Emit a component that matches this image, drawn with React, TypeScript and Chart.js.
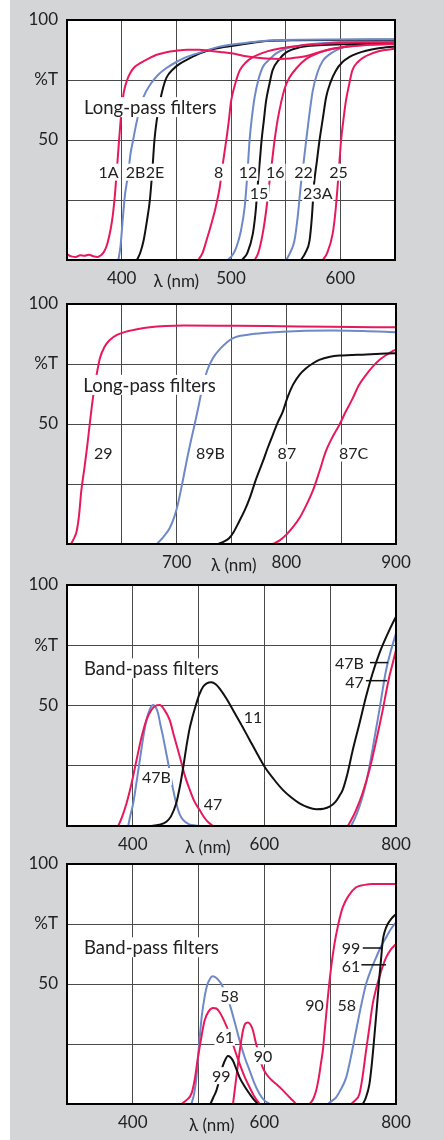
import React, { useEffect, useRef } from 'react';
import { Chart, registerables } from 'chart.js';
Chart.register(...registerables);

const PINK = '#e8195b';
const BLUE = '#6e88c8';
const BLACK = '#111111';
const FONT = 'Lato, "Open Sans", sans-serif';

// ---------- Panel 1: long-pass filters (350-650 nm) ----------
const p1_1A_nm = [350, 354, 358, 362, 366, 370, 374, 378, 381, 384, 387, 390, 392, 394, 396, 398, 400, 402, 405, 408, 412, 417, 425, 432, 440, 450, 460, 471, 480, 490, 502, 512, 520, 532, 545, 554, 562, 569, 580, 593, 608, 624, 650];
const p1_1A_T = [2.4, 1.5, 1.2, 2, 1.8, 2.2, 1.6, 1.3, 2, 3.5, 7, 13, 19, 28, 40, 52, 63, 70, 75, 78, 80.5, 82, 84, 85.5, 86.5, 87.2, 87.6, 87.6, 87.2, 86.7, 86, 85, 84.5, 84, 83.8, 84, 84.5, 85, 86.5, 88, 89, 89.6, 90];
const p1_2B_nm = [397, 399, 401, 403, 406, 408, 410.5, 413, 416.6, 420, 426, 433, 441, 450, 459, 470, 486, 500, 517, 530, 548, 600, 650];
const p1_2B_T = [0, 6, 17, 27, 36, 44, 50, 56, 63, 68, 73, 77, 80, 82.5, 84.5, 86.2, 88.5, 89.7, 90.7, 91.3, 91.7, 91.9, 92];
const p1_2E_nm = [414, 417, 420, 423, 425.8, 428, 430, 432, 435, 438, 441, 447, 453, 462, 471, 485, 502, 520, 532, 560, 650];
const p1_2E_T = [0, 3, 8, 16, 25, 37, 50, 58, 66, 72, 76, 79.5, 81.7, 84, 86, 88, 89.3, 90.5, 91.2, 91.6, 91.8];
const p1_8_nm = [470, 474, 477.5, 482, 486, 489.6, 492.5, 495.7, 498, 500, 503, 508, 514, 520, 529, 538, 550, 563, 580, 593, 620, 650];
const p1_8_T = [0, 3, 8, 15, 22, 30, 40, 50, 58, 66, 72, 79, 82.5, 84.5, 86.3, 87.5, 88.5, 89.3, 89.9, 90.3, 90.6, 90.7];
const p1_12_nm = [497, 502, 505, 509, 512.5, 515, 517, 519, 521.6, 525, 529, 535, 541, 550, 563, 580, 600, 650];
const p1_12_T = [0, 2.5, 5.4, 12, 22, 36, 50, 59, 67.8, 75, 80.3, 83.5, 86, 88, 89.3, 90.2, 90.8, 91.4];
const p1_15_nm = [510, 515, 520, 522.5, 524.6, 526.5, 528, 530, 532, 535, 538, 544, 550.5, 562.7, 580, 610, 650];
const p1_15_T = [0, 3, 11, 20, 31.8, 42, 50, 58, 66, 73, 79, 83.5, 86.5, 88.6, 89.5, 90, 90.3];
const p1_16_nm = [521.6, 525, 529, 532, 535, 537.5, 539.9, 542.5, 546, 549.5, 553.5, 560, 568.8, 580, 593, 610, 630, 650];
const p1_16_T = [0, 3, 11, 20, 31.8, 41, 50, 58, 66, 72, 76, 80, 83.8, 86.3, 88, 89.2, 89.8, 90];
const p1_22_nm = [550.5, 554, 558, 561, 564, 566.5, 568.8, 571.5, 574.8, 579, 584, 591, 599, 612, 630, 650];
const p1_22_T = [0, 3, 8, 18, 31.8, 41, 50, 60, 70.6, 78, 83, 86, 88, 89.8, 90.8, 91.4];
const p1_23A_nm = [564, 568, 571.8, 574, 576, 578.5, 581, 584, 587, 591, 596, 602, 608, 615, 623.5, 635, 650];
const p1_23A_T = [0, 3, 8, 18, 31.8, 41, 50, 59, 67.8, 74, 79, 82.5, 84.5, 86, 87.2, 88.2, 89];
const p1_25_nm = [584, 588, 593, 595.5, 597.7, 599.2, 600.7, 602.7, 605, 608, 611, 616, 623.5, 635, 650];
const p1_25_T = [0, 3, 11, 20, 31.8, 41, 50, 58, 66, 73, 79, 82.5, 85, 87, 88];

// ---------- Panel 2: long-pass filters (600-900 nm) ----------
const p2_29_nm = [603.6, 606, 608.8, 611, 613, 616, 618.5, 621, 624, 627, 630, 634, 639, 646, 654, 665, 675.5, 690, 706, 750, 782, 840, 900];
const p2_29_T = [0, 2, 5.3, 12, 22, 32, 41, 51, 62, 70.5, 77.4, 82, 85, 87.2, 88.5, 89.6, 90.3, 90.8, 91, 90.9, 90.8, 90.5, 90.3];
const p2_89B_nm = [682, 688, 693.7, 698, 701, 705, 709, 713, 716.5, 720, 724, 728, 733, 740, 751, 765, 782, 812, 842, 870, 900];
const p2_89B_T = [0, 3, 6.7, 11.5, 16.4, 25, 34.4, 43, 50, 57.5, 66.3, 72.5, 77.4, 81.5, 85.7, 87.2, 88, 88.8, 89, 88.8, 88.2];
const p2_87_nm = [737.7, 743, 748, 752, 757, 762, 766.5, 772, 778.6, 783, 787.7, 792, 796.8, 801, 806, 812, 818, 824, 830, 840, 848.4, 872.7, 900];
const p2_87_T = [0, 1, 2.5, 5, 9.4, 14, 19, 26.5, 34.4, 40, 45.5, 50.5, 55.2, 61, 66.3, 70.5, 73.2, 75.2, 76.7, 78, 78.5, 79, 79.5];
const p2_87C_nm = [787.7, 794, 800, 806, 812, 818, 824, 830, 836, 842, 848.4, 854, 860.5, 866, 872.7, 879, 884.8, 892, 900];
const p2_87C_T = [0, 1.5, 3.9, 7, 10.8, 16, 22, 30, 38.6, 44.5, 49.7, 55, 60.7, 66, 70.5, 74, 76.7, 79, 81.1];

// ---------- Panel 3: band-pass 47, 47B, 11 ----------
const p3_47B_a_nm = [393, 396, 400.6, 405, 410.7, 416, 420.8, 426, 431, 435, 438.5, 442, 446, 451, 456, 461, 466, 471, 476.4, 485, 495, 502];
const p3_47B_a_T = [0, 4, 9.4, 17, 27.4, 37, 44, 48.5, 50.2, 49.2, 46.7, 42, 37, 30, 23, 15.5, 9.4, 5, 2.5, 0.8, 0.2, 0];
const p3_47B_b_nm = [731.8, 738, 744.4, 752, 759.6, 767, 774.7, 780, 785, 792, 800];
const p3_47B_b_T = [0, 3.5, 8, 15, 24.6, 36, 48.1, 57, 64.7, 72.5, 80];
const p3_47_a_nm = [377.9, 384, 390.5, 398, 405.7, 413, 420.8, 428, 434, 441, 448, 456, 463, 471.4, 479, 486.6, 494, 501.7, 510, 516, 522];
const p3_47_a_T = [0, 4, 9.4, 17.5, 27.4, 36.5, 44, 48, 49.8, 50.2, 48.2, 44, 37, 28.8, 21, 15, 10, 6.6, 3, 1.2, 0];
const p3_47_b_nm = [726.7, 733, 739.3, 749, 759.6, 770, 779.8, 785, 789.9, 795, 800];
const p3_47_b_T = [0, 3, 6.6, 13.5, 23.2, 35.5, 48.1, 55.5, 62, 67.5, 73];
const p3_11_nm = [425.9, 440, 451, 458, 466, 472, 477, 481.5, 486, 491, 496.7, 501, 506.8, 513, 519.4, 526, 532, 542, 552.3, 565, 577.6, 589, 600.3, 614, 628, 641, 653.4, 666, 678.7, 690, 699, 708, 714, 719, 726, 734.3, 744, 754.5, 764, 774.7, 782, 789.9, 800];
const p3_11_T = [0, 0.5, 1.8, 4, 9.4, 17, 25, 33, 40, 45.5, 50.9, 54.5, 57.8, 59.3, 59.6, 58.8, 57, 53, 48.1, 42, 35.7, 30, 24.6, 19.5, 15, 11.8, 9.4, 7.8, 7, 7.2, 8, 10, 12.5, 15, 21.5, 31.5, 42, 53.7, 63, 71.6, 76.5, 81.3, 86.9];

// ---------- Panel 4: band-pass 58, 61, 99, 90 ----------
const p4_58_a_nm = [489, 493, 496.7, 499, 501.7, 505, 509, 513, 517, 521, 524.5, 529, 534.6, 540, 547, 555, 562.4, 570, 577.6, 585, 592.7, 600, 608];
const p4_58_a_T = [0, 4, 11, 19, 27.8, 37, 44.4, 49.5, 52, 53.2, 53, 52, 50, 46.5, 41.7, 34, 26.4, 19.5, 13.9, 8.5, 4.2, 1.5, 0];
const p4_58_b_nm = [696.4, 702, 709, 716, 724.2, 731, 739.4, 747, 754.5, 762, 769.7, 777, 784.9, 792, 800];
const p4_58_b_T = [0, 1.2, 2.8, 6, 11, 19, 30.6, 41, 50, 56, 61, 65.5, 69.4, 72.8, 75.7];
const p4_61_a_nm = [474, 481, 489, 494, 499, 504, 509, 515, 522, 527, 532, 539, 547, 555, 562.4, 570, 577.6, 585, 592.7];
const p4_61_a_T = [0, 1.5, 4.2, 10, 19.4, 27.5, 34.7, 38.5, 40, 39.8, 38.2, 34.5, 29.2, 22.5, 16.7, 11.3, 6.9, 3, 0];
const p4_61_b_nm = [731.8, 738, 744.4, 749, 754.5, 759.6, 764.6, 769.7, 774.7, 780, 784.9, 792, 800];
const p4_61_b_T = [0, 1.5, 4.2, 11, 22.2, 32, 41.7, 48, 52.8, 57.5, 61, 64.3, 66.7];
const p4_99_a_nm = [518, 522, 527, 531, 534.6, 539, 544.7, 548, 552.3, 557, 562.4, 570, 577.6, 584, 590];
const p4_99_a_T = [0, 2.5, 5.6, 9.5, 13.9, 17.5, 20, 19.6, 18, 14.8, 11, 7.3, 4.2, 1.8, 0];
const p4_99_b_nm = [749.5, 754, 759.6, 763, 767, 771, 774.7, 777.5, 779.8, 783, 787.4, 793, 800];
const p4_99_b_T = [0, 2.5, 8.3, 16, 27.8, 40.5, 52.8, 61, 68, 72, 75, 77.2, 79.2];
const p4_90_a_nm = [552.3, 555, 557.5, 559.9, 563.5, 567.5, 571, 575, 579, 582.6, 587, 592.7, 597, 602.9, 610, 618, 626, 633.2, 641, 648.4];
const p4_90_a_T = [0, 6, 11.5, 16.7, 24, 30.6, 33.5, 34, 33, 30.6, 25.5, 19.4, 15.5, 12.5, 10.2, 8.3, 6.3, 4.2, 2, 0];
const p4_90_b_nm = [668.6, 674, 678.7, 683, 686, 688.8, 692.5, 696.4, 701, 706.5, 712, 719, 728, 739.4, 752, 764.6, 800];
const p4_90_b_T = [0, 2, 5.6, 11.5, 17, 22.2, 33, 44.4, 56, 66.7, 74.5, 81.9, 86.8, 90.3, 91.3, 91.7, 91.7];

// ---------- Axis tick labels ----------
const yTickLabels: Record<number, string> = { 100: '100', 75: '%T', 50: '50' };
const p1_xLabels = [400, 500, 600];
const p2_xLabels = [700, 800, 900];
const p34_xLabels = [400, 600, 800];

const zip = (nm: number[], t: number[]) => nm.map((x, i) => ({ x, y: t[i] }));

type Lbl = { t: string; x: number; y: number };
type Leader = { x1: number; x2: number; y: number };
type PanelCfg = {
  top: number; plotH: number; right: number;
  xmin: number; xmax: number; step: number; xLabels: number[];
  series: { data: { x: number; y: number }[]; color: string }[];
  title: string; titleX: number; titleY: number;
  lambdaX: number;
  labels: Lbl[]; leaders: Leader[];
};

const panels: PanelCfg[] = [
  {
    top: 0, plotH: 240, right: 395, xmin: 350, xmax: 650, step: 50, xLabels: p1_xLabels,
    series: [
      { data: zip(p1_1A_nm, p1_1A_T), color: PINK },
      { data: zip(p1_2B_nm, p1_2B_T), color: BLUE },
      { data: zip(p1_2E_nm, p1_2E_T), color: BLACK },
      { data: zip(p1_8_nm, p1_8_T), color: PINK },
      { data: zip(p1_12_nm, p1_12_T), color: BLUE },
      { data: zip(p1_15_nm, p1_15_T), color: BLACK },
      { data: zip(p1_16_nm, p1_16_T), color: PINK },
      { data: zip(p1_22_nm, p1_22_T), color: BLUE },
      { data: zip(p1_23A_nm, p1_23A_T), color: BLACK },
      { data: zip(p1_25_nm, p1_25_T), color: PINK },
    ],
    title: 'Long-pass filters', titleX: 365.5, titleY: 63.7, lambdaX: 450,
    labels: [
      { t: '1A', x: 388, y: 36.6 }, { t: '2B', x: 412.7, y: 36.6 }, { t: '2E', x: 430.5, y: 36.6 },
      { t: '8', x: 488.7, y: 36.6 }, { t: '12', x: 515.5, y: 36.6 }, { t: '16', x: 540.5, y: 36.6 },
      { t: '22', x: 566.3, y: 36.6 }, { t: '25', x: 598.3, y: 36.6 },
      { t: '15', x: 525.6, y: 27.9 }, { t: '23A', x: 579.4, y: 27.9 },
    ],
    leaders: [],
  },
  {
    top: 284, plotH: 240, right: 396, xmin: 600, xmax: 900, step: 50, xLabels: p2_xLabels,
    series: [
      { data: zip(p2_29_nm, p2_29_T), color: PINK },
      { data: zip(p2_89B_nm, p2_89B_T), color: BLUE },
      { data: zip(p2_87_nm, p2_87_T), color: BLACK },
      { data: zip(p2_87C_nm, p2_87C_T), color: PINK },
    ],
    title: 'Long-pass filters', titleX: 614.9, titleY: 66.3, lambdaX: 752,
    labels: [
      { t: '29', x: 633, y: 37.9 }, { t: '89B', x: 730.7, y: 37.9 },
      { t: '87', x: 800.5, y: 37.9 }, { t: '87C', x: 861.4, y: 37.9 },
    ],
    leaders: [],
  },
  {
    top: 565, plotH: 241, right: 396, xmin: 300, xmax: 800, step: 100, xLabels: p34_xLabels,
    series: [
      { data: zip(p3_11_nm, p3_11_T), color: BLACK },
      { data: zip(p3_47_a_nm, p3_47_a_T), color: PINK },
      { data: zip(p3_47_b_nm, p3_47_b_T), color: PINK },
      { data: zip(p3_47B_a_nm, p3_47B_a_T), color: BLUE },
      { data: zip(p3_47B_b_nm, p3_47B_b_T), color: BLUE },
    ],
    title: 'Band-pass filters', titleX: 325.8, titleY: 65.4, lambdaX: 514,
    labels: [
      { t: '47B', x: 436, y: 20.5 }, { t: '47', x: 522, y: 9.4 }, { t: '11', x: 582.6, y: 45.4 },
      { t: '47B', x: 729.3, y: 67.5 }, { t: '47', x: 737, y: 59.8 },
    ],
    leaders: [{ x1: 760.4, x2: 787.8, y: 67.8 }, { x1: 754.3, x2: 786.3, y: 60.3 }],
  },
  {
    top: 843.5, plotH: 240, right: 396, xmin: 300, xmax: 800, step: 100, xLabels: p34_xLabels,
    series: [
      { data: zip(p4_99_a_nm, p4_99_a_T), color: BLACK },
      { data: zip(p4_99_b_nm, p4_99_b_T), color: BLACK },
      { data: zip(p4_61_a_nm, p4_61_a_T), color: PINK },
      { data: zip(p4_61_b_nm, p4_61_b_T), color: PINK },
      { data: zip(p4_90_a_nm, p4_90_a_T), color: PINK },
      { data: zip(p4_90_b_nm, p4_90_b_T), color: PINK },
      { data: zip(p4_58_a_nm, p4_58_a_T), color: BLUE },
      { data: zip(p4_58_b_nm, p4_58_b_T), color: BLUE },
    ],
    title: 'Band-pass filters', titleX: 325.8, titleY: 65.3, lambdaX: 520,
    labels: [
      { t: '58', x: 547, y: 45.1 }, { t: '61', x: 539.7, y: 27.8 }, { t: '99', x: 534.6, y: 11.8 },
      { t: '90', x: 597.8, y: 20.1 }, { t: '90', x: 676, y: 41.4 }, { t: '58', x: 725.2, y: 41.4 },
      { t: '99', x: 731.8, y: 65 }, { t: '61', x: 731.8, y: 57.6 },
    ],
    leaders: [{ x1: 749.5, x2: 777.3, y: 65 }, { x1: 744.4, x2: 784.9, y: 58 }],
  },
];

const CANVAS_H = 300;
const PAD_TOP = 20;
const Y_AXIS_W = 67;

const decorPlugin = {
  id: 'decor',
  beforeDraw(chart: any) {
    const { ctx, chartArea: a } = chart;
    ctx.save();
    ctx.fillStyle = '#ffffff';
    ctx.fillRect(a.left, a.top, a.right - a.left, a.bottom - a.top);
    ctx.restore();
  },
  afterDatasetsDraw(chart: any, _args: any, opts: any) {
    const cfg: PanelCfg = opts.cfg;
    const { ctx, chartArea: a } = chart;
    const xs = chart.scales.x, ys = chart.scales.y;
    ctx.save();
    ctx.textBaseline = 'middle';
    // leaders
    ctx.strokeStyle = '#111';
    ctx.lineWidth = 1.5;
    for (const l of cfg.leaders) {
      const y = ys.getPixelForValue(l.y);
      ctx.beginPath();
      ctx.moveTo(xs.getPixelForValue(l.x1), y);
      ctx.lineTo(xs.getPixelForValue(l.x2), y);
      ctx.stroke();
    }
    // curve labels
    ctx.font = `16px ${FONT}`;
    ctx.textAlign = 'center';
    for (const l of cfg.labels) {
      const px = xs.getPixelForValue(l.x), py = ys.getPixelForValue(l.y);
      const w = ctx.measureText(l.t).width;
      ctx.fillStyle = '#fff';
      ctx.fillRect(px - w / 2 - 1, py - 8.5, w + 2, 17);
      ctx.fillStyle = '#222';
      ctx.fillText(l.t, px, py + 1);
    }
    // title
    ctx.font = `18.5px ${FONT}`;
    ctx.textAlign = 'left';
    {
      const px = xs.getPixelForValue(cfg.titleX), py = ys.getPixelForValue(cfg.titleY);
      const w = ctx.measureText(cfg.title).width;
      ctx.fillStyle = '#fff';
      ctx.fillRect(px - 2, py - 10, w + 4, 20);
      ctx.fillStyle = '#222';
      ctx.fillText(cfg.title, px, py + 1);
    }
    // border
    ctx.strokeStyle = '#000';
    ctx.lineWidth = 2;
    ctx.strokeRect(a.left, a.top, a.right - a.left, a.bottom - a.top);
    // lambda axis title
    ctx.font = `17px ${FONT}`;
    ctx.textAlign = 'center';
    ctx.fillStyle = '#222';
    ctx.fillText('λ (nm)', xs.getPixelForValue(cfg.lambdaX), a.bottom + 22);
    ctx.restore();
  },
};

function Panel({ cfg }: { cfg: PanelCfg }) {
  const ref = useRef<HTMLCanvasElement>(null);
  useEffect(() => {
    const xAxisH = CANVAS_H - PAD_TOP - cfg.plotH;
    const chart = new Chart(ref.current as HTMLCanvasElement, {
      type: 'line',
      data: {
        datasets: cfg.series.map((s) => ({
          data: s.data,
          borderColor: s.color,
          borderWidth: 2,
          pointRadius: 0,
          fill: false,
          cubicInterpolationMode: 'monotone',
        })) as any,
      },
      options: {
        animation: false,
        responsive: false,
        events: [],
        layout: { padding: { top: PAD_TOP, left: 0, right: 444 - cfg.right, bottom: 0 } },
        plugins: { legend: { display: false }, tooltip: { enabled: false }, decor: { cfg } } as any,
        scales: {
          x: {
            type: 'linear',
            min: cfg.xmin,
            max: cfg.xmax,
            afterFit: (s: any) => { s.height = xAxisH; },
            border: { display: false },
            grid: { color: '#4a4a4a', lineWidth: 1, drawTicks: false },
            ticks: {
              stepSize: cfg.step,
              padding: 8,
              maxRotation: 0,
              autoSkip: false,
              color: '#222',
              font: { family: FONT, size: 17 },
              callback: (v: any) => (cfg.xLabels.includes(Number(v)) ? String(v) : ''),
            },
          },
          y: {
            type: 'linear',
            min: 0,
            max: 100,
            afterFit: (s: any) => { s.width = Y_AXIS_W; },
            border: { display: false },
            grid: { color: '#4a4a4a', lineWidth: 1, drawTicks: false },
            ticks: {
              stepSize: 25,
              padding: 9,
              autoSkip: false,
              color: '#222',
              font: { family: FONT, size: 17 },
              callback: (v: any) => yTickLabels[Number(v)] ?? '',
            },
          },
        },
      } as any,
      plugins: [decorPlugin],
    });
    return () => chart.destroy();
  }, [cfg]);
  return (
    <canvas
      ref={ref}
      width={444}
      height={CANVAS_H}
      style={{ position: 'absolute', left: 0, top: cfg.top, width: 444, height: CANVAS_H }}
    />
  );
}

export default function App() {
  return (
    <div style={{ position: 'absolute', left: 0, top: 0, width: 444, height: 1140, background: '#ffffff', overflow: 'hidden' }}>
      <div style={{ position: 'absolute', left: 10, top: 0, width: 434, height: 1140, background: '#d4d5d7' }} />
      {panels.map((p, i) => (
        <Panel key={i} cfg={p} />
      ))}
    </div>
  );
}
